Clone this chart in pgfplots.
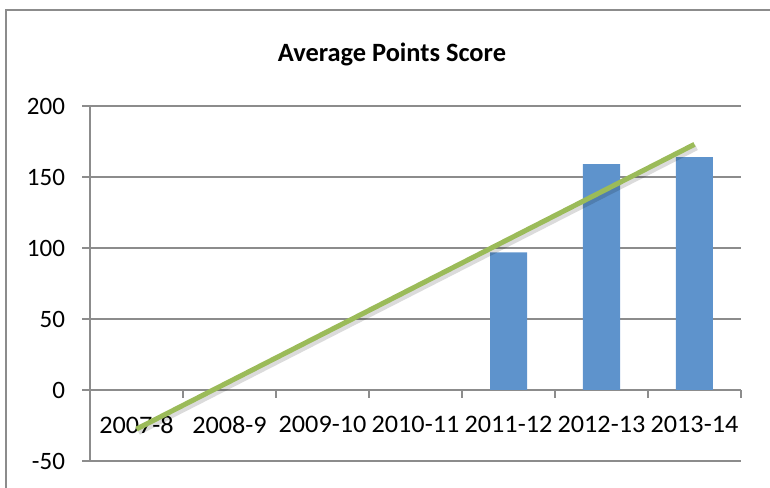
\documentclass[border=0pt]{standalone}
\usepackage{fontspec}
\setmainfont{Carlito}
\newfontfamily\xfont{Carlito}[FakeStretch=1.04]
\usepackage{pgfplots}
\pgfplotsset{compat=1.18}
\definecolor{barblue}{RGB}{94,147,204}
\definecolor{trendgreen}{RGB}{155,187,89}
\definecolor{gridgray}{RGB}{140,140,140}
\begin{document}
\begin{tikzpicture}
\draw[gridgray, line width=0.9bp] (3bp,-40bp) -- (3bp,239bp) -- (440bp,239bp);
\node[font=\fontsize{13.2bp}{15bp}\selectfont\bfseries] at (196bp,217bp) {Average Points Score};
\begin{axis}[
  at={(45bp,13.5bp)}, anchor=south west,
  scale only axis,
  width=325.5bp, height=177.5bp,
  xmin=0.5, xmax=7.5, ymin=-50, ymax=200,
  axis x line=middle, axis y line=left,
  axis line style={gridgray, line width=0.75bp, -},
  xtick={1,...,7},
  xticklabels={2007-8,2008-9,2009-10,2010-11,2011-12,2012-13,2013-14},
  major x tick style={draw=none},
  minor xtick={1.5,2.5,...,7.5},
  minor x tick style={gridgray, line width=0.75bp},
  minor tick length=4bp,
  tick align=outside,
  ytick={-50,0,50,100,150,200},
  major tick length=4bp,
  y tick style={gridgray, line width=0.75bp},
  ymajorgrids,
  grid style={gridgray, line width=0.75bp},
  tick label style={font=\fontsize{12.5bp}{14bp}\selectfont},
  /pgf/number format/assume math mode=true,
  xticklabel style={yshift=-5.5bp, font=\fontsize{12.6bp}{14bp}\xfont},
  yticklabel style={xshift=-5bp},
  ybar, bar width=18.5bp,
  clip=false,
]
\addplot[ybar, fill=barblue, draw=none] coordinates {(5,97) (6,159) (7,164)};
\addplot[sharp plot, draw=black, opacity=0.14, line width=3bp, xshift=1bp, yshift=-1.5bp] coordinates {(1,-27.5) (7,173)};
\addplot[sharp plot, draw=trendgreen, line width=2.5bp] coordinates {(1,-27.5) (7,173)};
\end{axis}
\pgfresetboundingbox
\useasboundingbox (0,0) rectangle (385bp,244bp);
\end{tikzpicture}
\end{document}
